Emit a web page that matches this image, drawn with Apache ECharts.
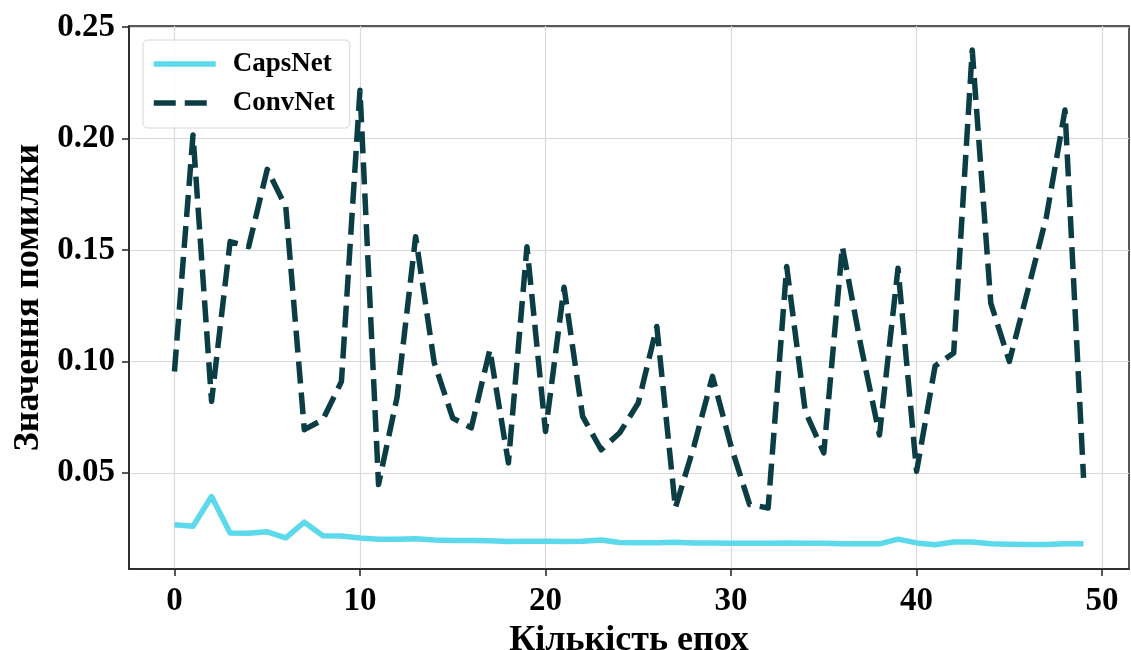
<!DOCTYPE html>
<html>
<head>
<meta charset="utf-8">
<script src="https://cdn.jsdelivr.net/npm/echarts@6/dist/echarts.min.js"></script>
<style>
html,body{margin:0;padding:0;background:#fff;}
#chart{width:1131px;height:650px;}
</style>
</head>
<body>
<div id="chart"></div>
<script>
const epochs = Array.from({length: 50}, (_, i) => i);
const capsNet = [0.0268, 0.0261, 0.0394, 0.0230, 0.0229, 0.0236, 0.0209, 0.0279, 0.0218, 0.0217,
  0.0208, 0.0203, 0.0202, 0.0205, 0.0199, 0.0197, 0.0197, 0.0196, 0.0192, 0.0194,
  0.0194, 0.0192, 0.0194, 0.0199, 0.0188, 0.0187, 0.0187, 0.0189, 0.0186, 0.0186,
  0.0185, 0.0185, 0.0185, 0.0186, 0.0184, 0.0185, 0.0182, 0.0182, 0.0182, 0.0203,
  0.0186, 0.0178, 0.0190, 0.0190, 0.0182, 0.0180, 0.0179, 0.0179, 0.0182, 0.0182];
const convNet = [0.0955, 0.2016, 0.0821, 0.1538, 0.1515, 0.1862, 0.1694, 0.0694, 0.0739, 0.0910,
  0.2217, 0.0448, 0.0840, 0.1560, 0.0995, 0.0746, 0.0702, 0.1053, 0.0545, 0.1515,
  0.0686, 0.1333, 0.0754, 0.0604, 0.0680, 0.0814, 0.1157, 0.0343, 0.0620, 0.0933,
  0.0620, 0.0358, 0.0343, 0.1426, 0.0776, 0.0590, 0.1515, 0.1070, 0.0670, 0.1418,
  0.0507, 0.0980, 0.1038, 0.2397, 0.1262, 0.1000, 0.1320, 0.1650, 0.2128, 0.0478];
const xTicks = [0, 10, 20, 30, 40, 50];
const yTicks = [0.05, 0.10, 0.15, 0.20, 0.25];
const seriesNames = ['CapsNet', 'ConvNet'];
const xTitle = 'Кількість епох';
const yTitle = 'Значення помилки';

const FONT = '"Liberation Serif", "Times New Roman", serif';
const chart = echarts.init(document.getElementById('chart'), null, {renderer: 'canvas'});
const axisCommon = {
  axisLine: {show: true, onZero: false, lineStyle: {color: '#222', width: 1.5}},
  axisTick: {show: true, inside: false, length: 7, lineStyle: {color: '#222', width: 1.5}},
  splitLine: {show: true, lineStyle: {color: '#d9d9d9', width: 1.2}},
  nameTextStyle: {fontFamily: FONT, fontWeight: 'bold', fontSize: 36, color: '#000'}
};
chart.setOption({
  animation: false,
  backgroundColor: '#fff',
  grid: {left: 129, right: 2, top: 26, bottom: 81, containLabel: false, outerBoundsMode: 'none',
    show: true, borderColor: '#222', borderWidth: 1.5},
  legend: {
    left: 143, top: 40, orient: 'vertical', align: 'left',
    padding: [9, 15, 10, 8], itemGap: 9, itemWidth: 62, itemHeight: 20,
    backgroundColor: 'rgba(255,255,255,0.85)', borderColor: '#d6d6d6', borderWidth: 1, borderRadius: 5,
    lineStyle: {width: 5.5, type: 'inherit'},
    itemStyle: {opacity: 0, borderWidth: 0},
    textStyle: {fontFamily: FONT, fontWeight: 'bold', fontSize: 27, color: '#000', lineHeight: 30,
      padding: [0, 0, 0, 12]},
    data: seriesNames
  },
  xAxis: Object.assign({}, axisCommon, {
    type: 'value', min: -2.45, max: 51.45,
    name: xTitle, nameLocation: 'middle', nameGap: 45,
    axisTick: Object.assign({}, axisCommon.axisTick, {customValues: xTicks}),
    axisLabel: {customValues: xTicks, margin: 16, fontFamily: FONT, fontWeight: 'bold', fontSize: 33, color: '#000'}
  }),
  yAxis: Object.assign({}, axisCommon, {
    type: 'value', min: 0.0069, max: 0.2505,
    name: yTitle, nameLocation: 'middle', nameGap: 81, nameRotate: 90,
    axisTick: Object.assign({}, axisCommon.axisTick, {customValues: yTicks}),
    axisLabel: {customValues: yTicks, margin: 14, fontFamily: FONT, fontWeight: 'bold', fontSize: 33, color: '#000',
      formatter: v => v.toFixed(2)}
  }),
  series: [
    {name: seriesNames[0], type: 'line', data: epochs.map((e, i) => [e, capsNet[i]]),
      symbol: 'none', color: '#5cd9eb', lineStyle: {width: 5.5, color: '#5cd9eb', join: 'round', cap: 'butt'}, z: 3},
    {name: seriesNames[1], type: 'line', data: epochs.map((e, i) => [e, convNet[i]]),
      symbol: 'none', color: '#0b3d45', lineStyle: {width: 5.5, color: '#0b3d45', type: [22, 9], join: 'round', cap: 'butt'}, z: 4}
  ]
});
</script>
</body>
</html>
